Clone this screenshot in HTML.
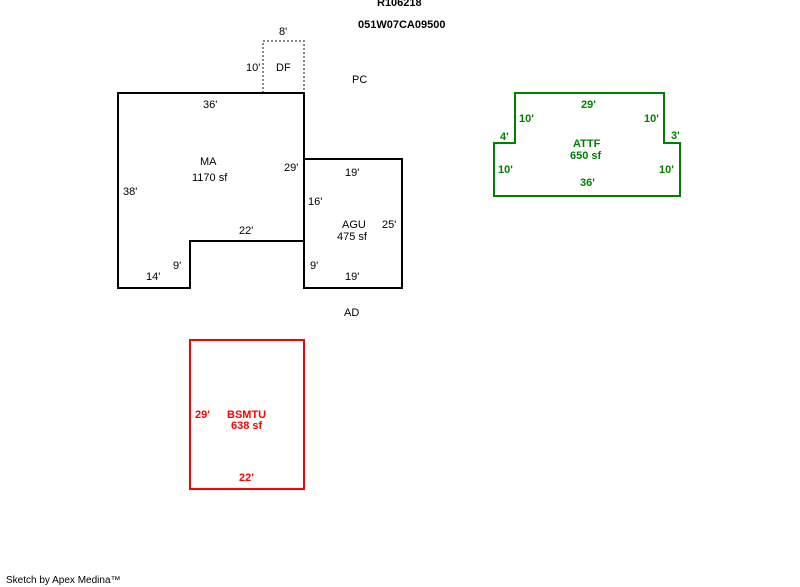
<!DOCTYPE html>
<html><head><style>
body{margin:0;background:#fff;}
svg{display:block;font-family:"Liberation Sans",Arial,sans-serif;font-size:11px;}
.b{font-weight:bold;}
</style></head><body>
<svg width="800" height="587" viewBox="0 0 800 587">
<text x="377" y="6" class="b" fill="#000">R106218</text>
<text x="358" y="28" class="b" fill="#000">051W07CA09500</text>
<polyline points="263,93 263,41 304,41 304,93" fill="none" stroke="#888" stroke-width="2" stroke-dasharray="2,2"/>
<text x="279" y="35">8'</text>
<text x="246" y="71">10'</text>
<text x="276" y="71">DF</text>
<text x="352" y="83">PC</text>
<polygon points="118,93 304,93 304,241 190,241 190,288 118,288" fill="none" stroke="#000" stroke-width="2"/>
<rect x="304" y="159" width="98" height="129" fill="none" stroke="#000" stroke-width="2"/>
<text x="203" y="108">36'</text>
<text x="200" y="165">MA</text>
<text x="192" y="181">1170 sf</text>
<text x="284" y="171">29'</text>
<text x="123" y="195">38'</text>
<text x="239" y="234">22'</text>
<text x="173" y="269">9'</text>
<text x="146" y="280">14'</text>
<text x="345" y="176">19'</text>
<text x="308" y="205">16'</text>
<text x="342" y="228">AGU</text>
<text x="337" y="240">475 sf</text>
<text x="382" y="228">25'</text>
<text x="310" y="269">9'</text>
<text x="345" y="280">19'</text>
<text x="344" y="316">AD</text>
<polygon points="515,93 664,93 664,143 680,143 680,196 494,196 494,143 515,143" fill="none" stroke="#008000" stroke-width="2"/>
<g fill="#008000" class="b">
<text x="581" y="108">29'</text>
<text x="519" y="122">10'</text>
<text x="644" y="122">10'</text>
<text x="500" y="140">4'</text>
<text x="671" y="139">3'</text>
<text x="573" y="147">ATTF</text>
<text x="570" y="159">650 sf</text>
<text x="498" y="173">10'</text>
<text x="659" y="173">10'</text>
<text x="580" y="186">36'</text>
</g>
<rect x="190" y="340" width="114" height="149" fill="none" stroke="#ff0000" stroke-width="2"/>
<g fill="#ff0000" class="b">
<text x="195" y="418">29'</text>
<text x="227" y="418">BSMTU</text>
<text x="231" y="429">638 sf</text>
<text x="239" y="481">22'</text>
</g>
<text x="6" y="583" style="font-size:10px">Sketch by Apex Medina™</text>
</svg>
</body></html>
